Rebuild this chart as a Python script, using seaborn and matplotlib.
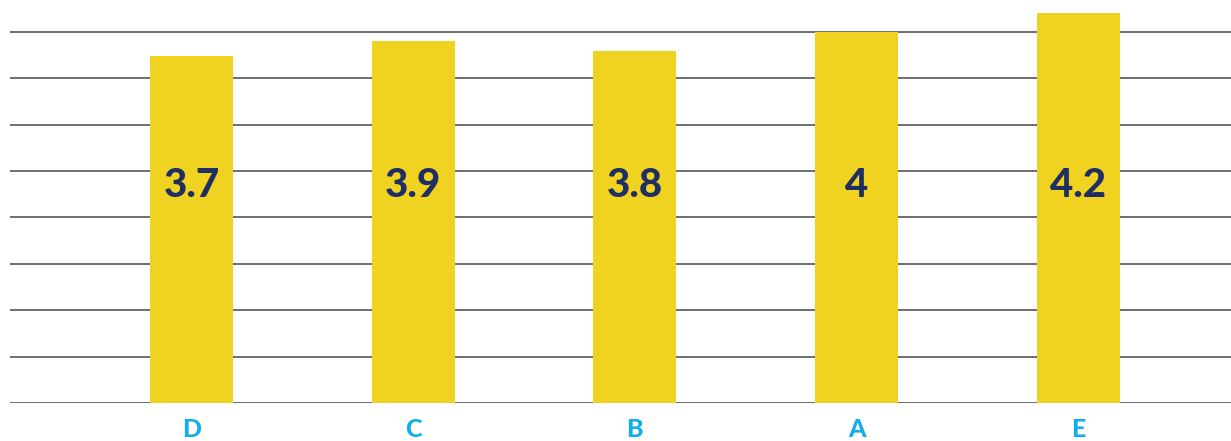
import matplotlib
matplotlib.use("Agg")
import matplotlib.pyplot as plt
import seaborn as sns
import pandas as pd

# Chart data
categories = ["D", "C", "B", "A", "E"]
scores = [3.74, 3.9, 3.8, 4.0, 4.2]
labels = ["3.7", "3.9", "3.8", "4", "4.2"]

df = pd.DataFrame({"cat": categories, "score": scores})

sns.set_style("white")
plt.rcParams["font.family"] = ["Lato", "DejaVu Sans"]

fig = plt.figure(figsize=(12.31, 4.41), dpi=100)
ax = fig.add_axes([10 / 1231, 38 / 441, 1221 / 1231, 403 / 441])

sns.barplot(data=df, x="cat", y="score", order=categories, color="#f0d320",
            saturation=1, width=0.375, linewidth=0, ax=ax, zorder=3)

# horizontal gridlines every 0.5
for yv in [0.5 * i for i in range(9)]:
    ax.axhline(yv, color="#555555", lw=1.2, zorder=1)

ax.set_ylim(0, 4.345)
ax.set_xlim(-0.82, 4.69)
ax.set_yticks([])
ax.set_xlabel("")
ax.set_ylabel("")
for s in ax.spines.values():
    s.set_visible(False)

ax.tick_params(axis="x", length=0, pad=11)
for t in ax.get_xticklabels():
    t.set_color("#12aeea")
    t.set_fontsize(18)
    t.set_fontweight("black")

# value labels in the middle of the bars
for i, lab in enumerate(labels):
    ax.text(i, 2.35, lab, ha="center", va="center", color="#1f2f63",
            fontsize=29, fontweight="black", zorder=4)

fig.savefig("out.png", dpi=100)
